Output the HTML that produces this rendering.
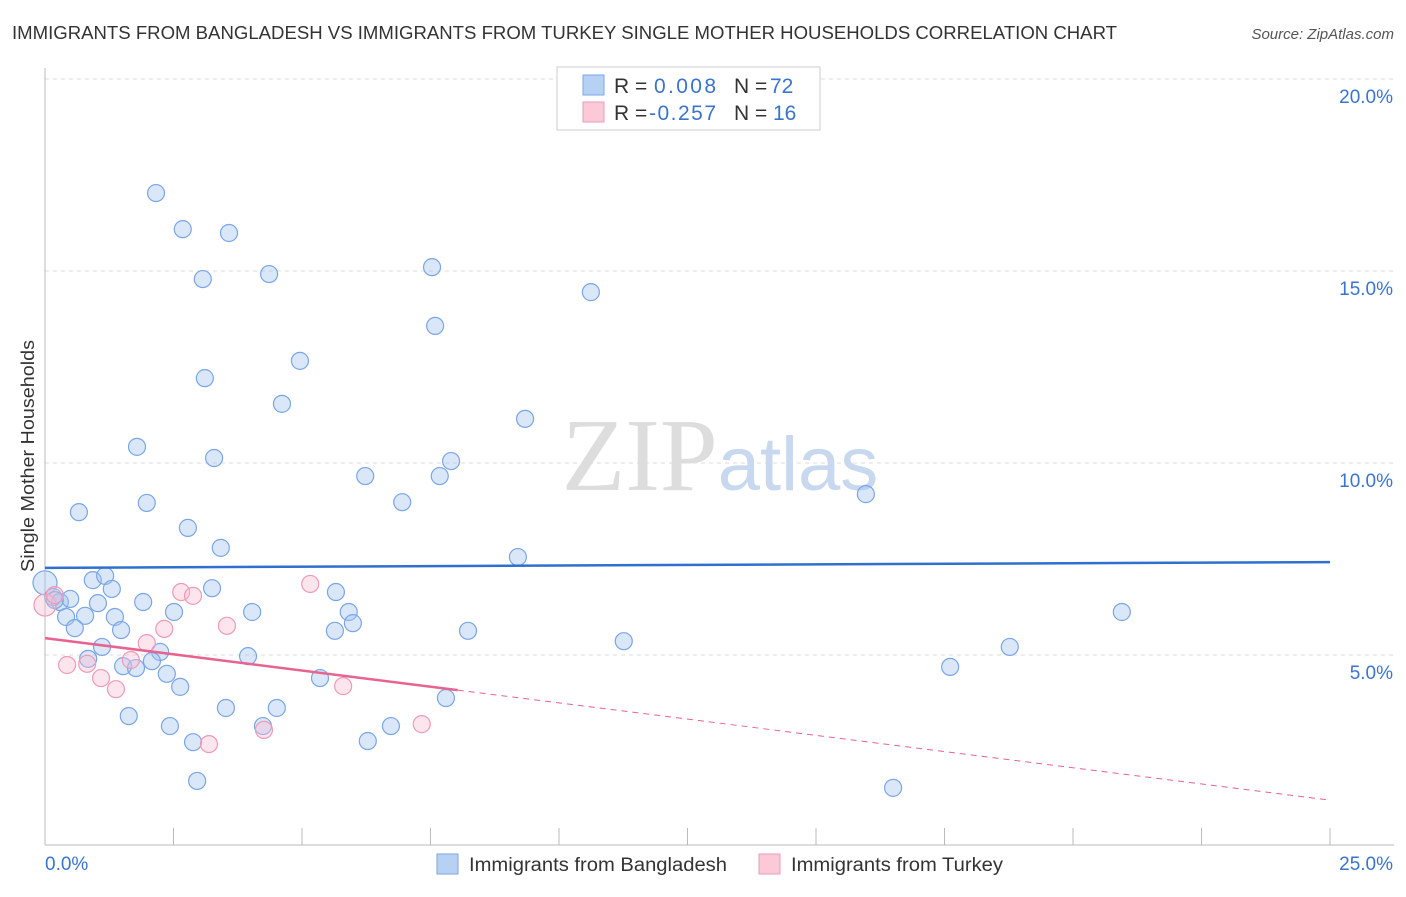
<!DOCTYPE html>
<html><head><meta charset="utf-8"><style>
body{margin:0;background:#fff;font-family:"Liberation Sans",sans-serif;}
</style></head><body>
<svg id="chart" width="1406" height="892" xmlns="http://www.w3.org/2000/svg" font-family="Liberation Sans, sans-serif">
<text x="12" y="39" font-size="18" fill="#333" textLength="1105" lengthAdjust="spacingAndGlyphs">IMMIGRANTS FROM BANGLADESH VS IMMIGRANTS FROM TURKEY SINGLE MOTHER HOUSEHOLDS CORRELATION CHART</text>
<text x="1394" y="39" font-size="15" fill="#555" font-style="italic" text-anchor="end">Source: ZipAtlas.com</text>
<text transform="translate(34,456) rotate(-90)" font-size="18" fill="#333" text-anchor="middle" textLength="232" lengthAdjust="spacingAndGlyphs">Single Mother Households</text>
<g id="grid"></g>
<text x="720" y="490" font-size="104" text-anchor="middle" font-family="Liberation Serif, serif" fill="#ddd">ZIP<tspan fill="#c8d8ee" font-family="Liberation Sans, sans-serif" font-size="76">atlas</tspan></text>
<g id="marks"></g>
<g>
<rect x="557" y="67" width="263" height="63" fill="#fff" stroke="#ccc"/>
<rect x="583" y="75" width="21" height="20" fill="#b7d1f5" stroke="#7aa6e6"/>
<rect x="583" y="102" width="21" height="20" fill="#fbc9d8" stroke="#ee9bb5"/>
<text x="614" y="93" font-size="21" fill="#333">R =</text><text x="654" y="93" font-size="21" fill="#3a74cf" textLength="62">0.008</text>
<text x="734" y="93" font-size="21" fill="#333">N =</text><text x="770" y="93" font-size="21" fill="#3a74cf">72</text>
<text x="614" y="120" font-size="21" fill="#333">R =</text><text x="649" y="120" font-size="21" fill="#3a74cf" textLength="67">-0.257</text>
<text x="734" y="120" font-size="21" fill="#333">N =</text><text x="773" y="120" font-size="21" fill="#3a74cf">16</text>
</g>
<g>
<rect x="437" y="854" width="21" height="20" fill="#b7d1f5" stroke="#7aa6e6"/>
<text x="469" y="871" font-size="19" fill="#333" textLength="258" lengthAdjust="spacingAndGlyphs">Immigrants from Bangladesh</text>
<rect x="759" y="854" width="21" height="20" fill="#fbc9d8" stroke="#ee9bb5"/>
<text x="791" y="871" font-size="19" fill="#333" textLength="212" lengthAdjust="spacingAndGlyphs">Immigrants from Turkey</text>
</g>
</svg>
<script>
const ns="http://www.w3.org/2000/svg";
const blueX=[2.16,2.68,3.58,3.07,4.36,7.53,10.62,7.59,4.96,3.11,4.61,9.34,1.79,3.29,7.90,6.23,7.68,15.97,0.66,1.98,6.95,2.78,3.42,9.20,0,0.93,1.17,1.30,3.25,5.66,0.16,0.29,0.49,1.03,1.91,2.51,4.03,5.91,20.95,0.41,0.78,1.36,5.99,0.58,1.48,5.64,8.23,11.26,1.11,2.24,3.95,18.77,0.84,1.52,2.08,1.77,17.61,2.37,5.35,2.63,7.80,1.63,3.52,4.51,4.24,2.43,6.73,2.88,6.28,2.96,16.50,0.19];
const blueY=[17.03,16.09,15.99,14.79,14.92,15.10,14.45,13.57,12.66,12.21,11.54,11.15,10.42,10.13,10.05,9.66,9.66,9.19,8.72,8.96,8.98,8.31,7.79,7.55,6.88,6.95,7.06,6.72,6.74,6.64,6.51,6.38,6.46,6.35,6.38,6.12,6.12,6.12,6.12,5.99,6.02,5.99,5.83,5.70,5.65,5.63,5.63,5.36,5.21,5.08,4.97,5.21,4.90,4.71,4.84,4.66,4.69,4.51,4.40,4.17,3.88,3.41,3.62,3.62,3.15,3.15,3.15,2.73,2.76,1.72,1.54,6.43];
const pinkX=[0,0.19,0.43,0.82,1.09,1.38,1.67,1.98,2.32,2.65,2.88,3.54,5.16,5.80,4.26,3.19,7.33];
const pinkY=[6.30,6.56,4.74,4.77,4.40,4.11,4.87,5.31,5.68,6.64,6.54,5.76,6.85,4.19,3.05,2.68,3.20];
const yTicks=[5,10,15,20];
const yTickLabels=["5.0%","10.0%","15.0%","20.0%"];
const xTicks=[0,2.5,5,7.5,10,12.5,15,17.5,20,22.5,25];
const blueTrend=[7.27,7.42];
const pinkTrend=[5.44,1.22];
const pinkSolidEnd=8.03;
const X=v=>45+v*51.4, Y=v=>847-v*38.4;
function mk(t,a,p){const e=document.createElementNS(ns,t);for(const k in a)e.setAttribute(k,a[k]);(p||document.getElementById('marks')).appendChild(e);return e;}
const g=document.getElementById('grid');
yTicks.forEach((t,i)=>{
 const l=mk('line',{x1:45,x2:1394,y1:Y(t),y2:Y(t),stroke:'#ddd','stroke-dasharray':'4,4'},g);
 
 
 const tx=mk('text',{x:1393,y:Y(t)+24,'font-size':19,fill:'#3a74cf','text-anchor':'end'},g);
 tx.textContent=yTickLabels[i];
 
 
});
const ax=mk('line',{x1:45,x2:45,y1:68,y2:845,stroke:'#bbb'},g);


const bx=mk('line',{x1:45,x2:1394,y1:845,y2:845,stroke:'#bbb'},g);


xTicks.forEach(t=>{const l=mk('line',{x1:X(t),x2:X(t),y1:828,y2:845,stroke:'#bbb'},g);
 
 });
const x0=mk('text',{x:45,y:870,'font-size':19,fill:'#3a74cf'},g);x0.textContent="0.0%";


const x1=mk('text',{x:1393,y:870,'font-size':19,fill:'#3a74cf','text-anchor':'end'},g);x1.textContent="25.0%";


blueX.forEach((v,i)=>{const c=mk('circle',{cx:X(v),cy:Y(blueY[i]),r:v===0?12:8.5,fill:'rgba(160,196,240,0.4)',stroke:'#7aa6e6','stroke-width':1.2});
 
 });
pinkX.forEach((v,i)=>{const c=mk('circle',{cx:X(v),cy:Y(pinkY[i]),r:v===0?11:8.5,fill:'rgba(248,190,210,0.4)',stroke:'#ee9bb5','stroke-width':1.2});
 
 });
const bl=mk('line',{x1:X(0),y1:Y(blueTrend[0]),x2:X(25),y2:Y(blueTrend[1]),stroke:'#2f6fd0','stroke-width':2.5});


const pAt=v=>pinkTrend[0]+(pinkTrend[1]-pinkTrend[0])*v/25;
const pl=mk('line',{x1:X(0),y1:Y(pinkTrend[0]),x2:X(pinkSolidEnd),y2:Y(pAt(pinkSolidEnd)),stroke:'#e8638f','stroke-width':2.5});


const pd=mk('line',{x1:X(pinkSolidEnd),y1:Y(pAt(pinkSolidEnd)),x2:X(25),y2:Y(pinkTrend[1]),stroke:'#e8638f','stroke-width':1,'stroke-dasharray':'6,5'});


</script>
</body></html>
